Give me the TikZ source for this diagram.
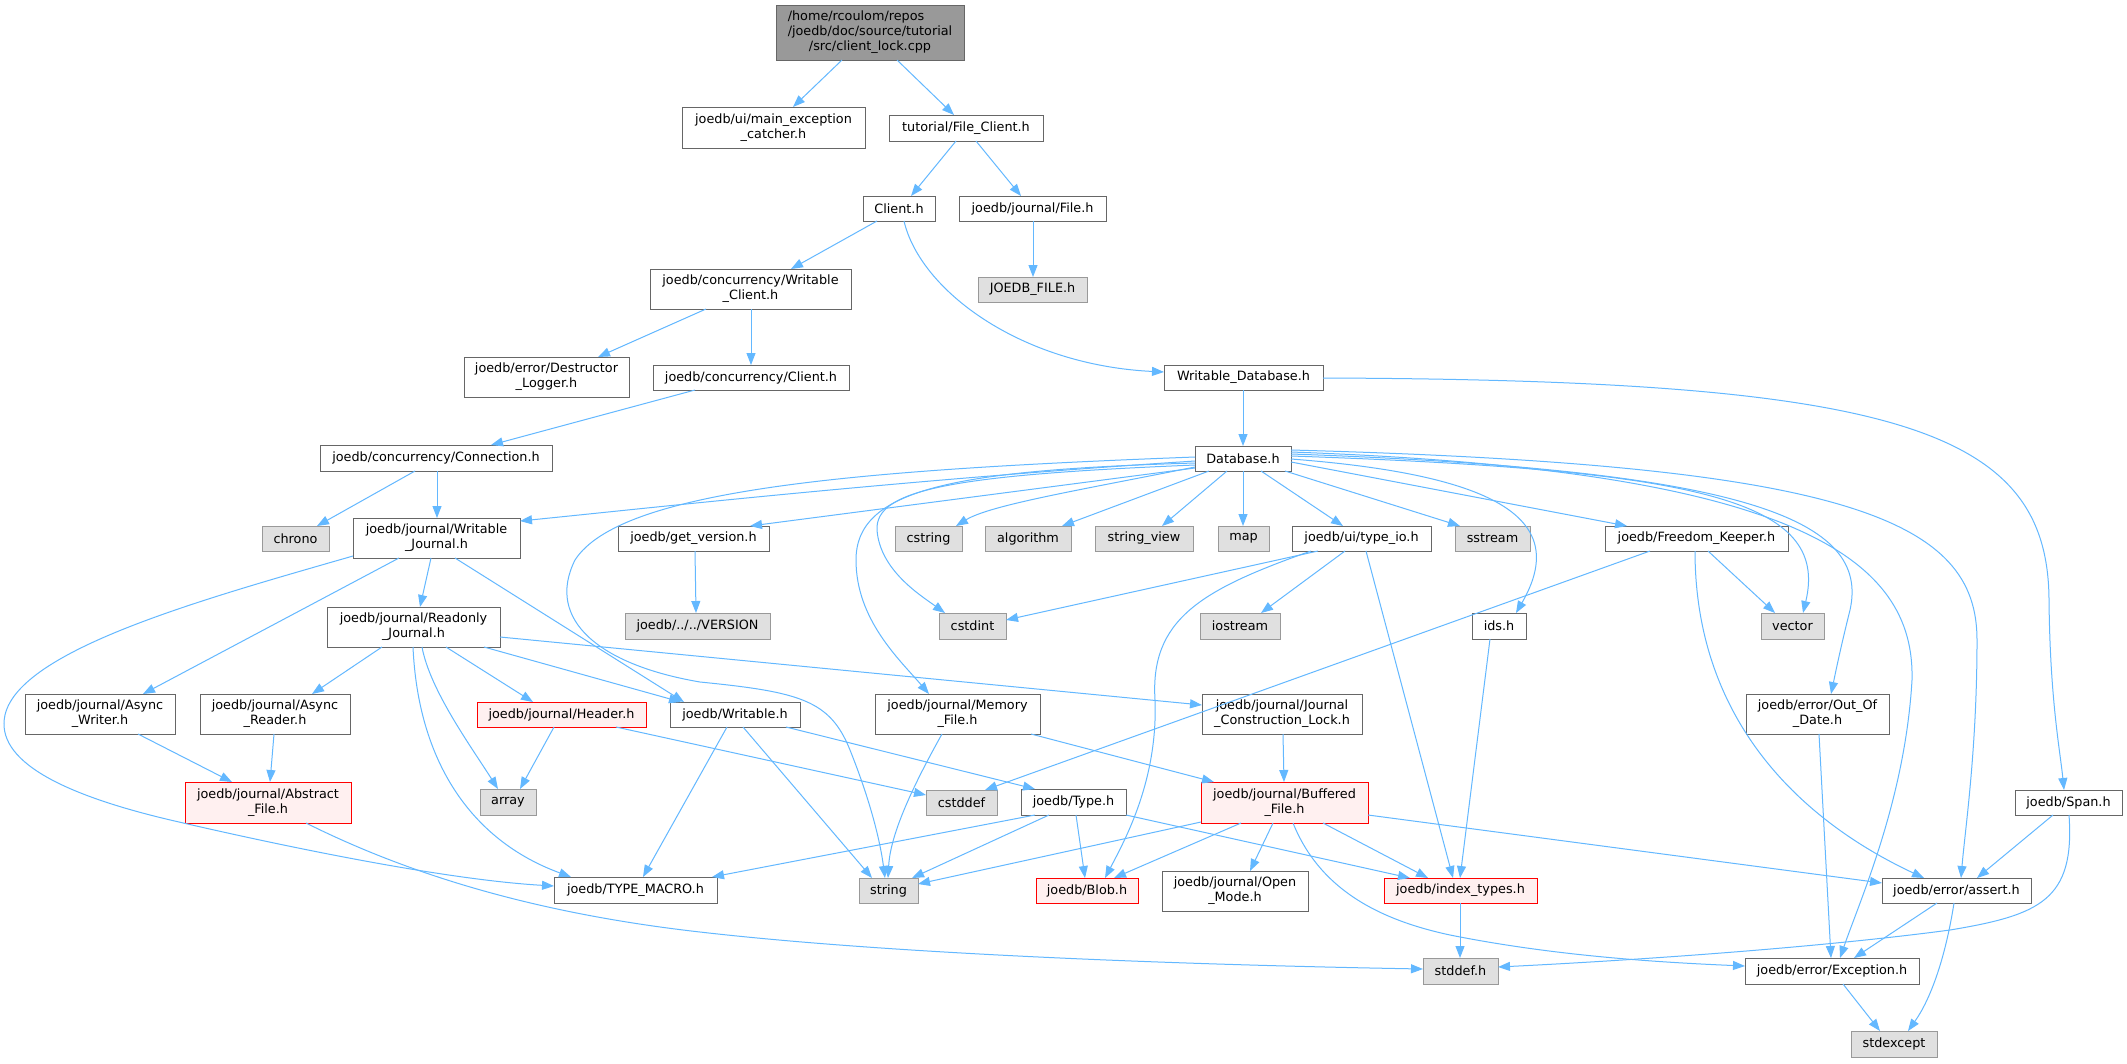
\documentclass[tikz,border=0pt]{standalone}
\usepackage{fontspec}
\setmainfont{DejaVu Sans}
\usetikzlibrary{arrows.meta}
\definecolor{edgec}{HTML}{63B8FF}
\definecolor{bord}{HTML}{666666}
\definecolor{gfill}{HTML}{E0E0E0}
\definecolor{gbord}{HTML}{999999}
\definecolor{rootfill}{HTML}{999999}
\definecolor{rfill}{HTML}{FFF0F0}
\definecolor{rbord}{HTML}{FF0000}
\newcommand\bnode[7]{\node[#1, minimum width={#6*1pt}, minimum height={#7*1pt}] (#2) at ({#4+#6/2},{#5+#7/2}) {#3};}
\tikzset{
  basen/.style={inner sep=0pt, outer sep=0pt, line width=1pt, align=center, text=black, font=\fontsize{12.8}{15}\selectfont},
  wn/.style={basen, draw=bord, fill=white},
  gn/.style={basen, draw=gbord, fill=gfill},
  rn/.style={basen, draw=rbord, fill=rfill},
  rootn/.style={basen, draw=bord, fill=rootfill},
  dep/.style={draw=edgec, line width=1pt, -{Triangle[length=12pt,width=9pt]}}
}
\begin{document}
\begin{tikzpicture}[x=1pt,y=-1pt]
\useasboundingbox[fill=white] (0,0) rectangle (2127,1063);
% nodes
\bnode{rootn}{root}{\rlap{/home/rcoulom/repos}\phantom{/joedb/doc/source/tutorial}\\/joedb/doc/source/tutorial\\/src/client\_lock.cpp}{776}{5}{188}{55}
\bnode{wn}{mec}{joedb/ui/main\_exception\\\_catcher.h}{682}{107}{183}{41}
\bnode{wn}{fc}{tutorial/File\_Client.h}{889}{115}{154}{26}
\bnode{wn}{client}{Client.h}{863}{196}{72}{25}
\bnode{wn}{jfile}{joedb/journal/File.h}{959}{196}{147}{25}
\bnode{gn}{joedbfile}{JOEDB\_FILE.h}{978}{277}{109}{25}
\bnode{wn}{wclient}{joedb/concurrency/Writable\\\_Client.h}{650}{269}{201}{40}
\bnode{wn}{dlog}{joedb/error/Destructor\\\_Logger.h}{464}{357}{165}{40}
\bnode{wn}{cclient}{joedb/concurrency/Client.h}{653}{365}{196}{25}
\bnode{wn}{wdb}{Writable\_Database.h}{1164}{365}{159}{25}
\bnode{wn}{conn}{joedb/concurrency/Connection.h}{320}{445}{232}{26}
\bnode{wn}{db}{Database.h}{1195}{446}{96}{25}
\bnode{gn}{chrono}{chrono}{262}{526}{67}{25}
\bnode{wn}{wj}{joedb/journal/Writable\\\_Journal.h}{353}{518}{167}{40}
\bnode{wn}{getv}{joedb/get\_version.h}{618}{526}{151}{25}
\bnode{gn}{cstring}{cstring}{895}{526}{67}{25}
\bnode{gn}{algorithm}{algorithm}{985}{526}{86}{25}
\bnode{gn}{stringview}{string\_view}{1095}{526}{98}{25}
\bnode{gn}{map}{map}{1218}{526}{51}{25}
\bnode{wn}{typeio}{joedb/ui/type\_io.h}{1292}{526}{139}{25}
\bnode{gn}{sstream}{sstream}{1455}{526}{75}{25}
\bnode{wn}{fk}{joedb/Freedom\_Keeper.h}{1605}{526}{183}{25}
\bnode{gn}{version}{joedb/../../VERSION}{625}{613}{145}{26}
\bnode{gn}{cstdint}{cstdint}{939}{613}{67}{26}
\bnode{gn}{iostream}{iostream}{1200}{613}{80}{26}
\bnode{wn}{ids}{ids.h}{1472}{613}{54}{26}
\bnode{gn}{vector}{vector}{1761}{613}{63}{26}
\bnode{wn}{rj}{joedb/journal/Readonly\\\_Journal.h}{327}{607}{173}{40}
\bnode{wn}{awriter}{joedb/journal/Async\\\_Writer.h}{25}{694}{150}{40}
\bnode{wn}{areader}{joedb/journal/Async\\\_Reader.h}{200}{694}{150}{40}
\bnode{rn}{header}{joedb/journal/Header.h}{477}{702}{169}{25}
\bnode{wn}{writable}{joedb/Writable.h}{670}{702}{130}{25}
\bnode{wn}{memfile}{joedb/journal/Memory\\\_File.h}{875}{694}{165}{40}
\bnode{wn}{jcl}{joedb/journal/Journal\\\_Construction\_Lock.h}{1202}{694}{160}{40}
\bnode{wn}{ood}{joedb/error/Out\_Of\\\_Date.h}{1746}{694}{143}{40}
\bnode{rn}{abstract}{joedb/journal/Abstract\\\_File.h}{185}{782}{166}{41}
\bnode{gn}{array}{array}{480}{789}{56}{26}
\bnode{gn}{cstddef}{cstddef}{926}{790}{71}{25}
\bnode{wn}{type}{joedb/Type.h}{1021}{789}{105}{26}
\bnode{rn}{buffered}{joedb/journal/Buffered\\\_File.h}{1201}{782}{167}{41}
\bnode{wn}{span}{joedb/Span.h}{2015}{790}{107}{25}
\bnode{wn}{typemacro}{joedb/TYPE\_MACRO.h}{554}{877}{163}{26}
\bnode{gn}{string}{string}{859}{878}{59}{25}
\bnode{rn}{blob}{joedb/Blob.h}{1036}{878}{102}{25}
\bnode{wn}{openmode}{joedb/journal/Open\\\_Mode.h}{1162}{871}{146}{40}
\bnode{rn}{indextypes}{joedb/index\_types.h}{1384}{878}{153}{25}
\bnode{wn}{assert}{joedb/error/assert.h}{1882}{878}{149}{25}
\bnode{gn}{stddef}{stddef.h}{1423}{958}{75}{26}
\bnode{wn}{exception}{joedb/error/Exception.h}{1745}{958}{174}{26}
\bnode{gn}{stdexcept}{stdexcept}{1851}{1031}{86}{26}
% edges
\draw[dep] ([shift={(66,55)}]root.north west) -- ([shift={(111,0)}]mec.north west);
\draw[dep] ([shift={(121,55)}]root.north west) -- ([shift={(65,0)}]fc.north west);
\draw[dep] ([shift={(67,26)}]fc.north west) -- ([shift={(48,0)}]client.north west);
\draw[dep] ([shift={(87,26)}]fc.north west) -- ([shift={(62,0)}]jfile.north west);
\draw[dep] ([shift={(74,25)}]jfile.north west) -- ([shift={(55,0)}]joedbfile.north west);
\draw[dep] ([shift={(14,25)}]client.north west) -- ([shift={(141,0)}]wclient.north west);
\draw[dep] ([shift={(41,25)}]client.north west) .. controls (920,290) and (1020,365) .. ([shift={(0,7)}]wdb.north west);
\draw[dep] ([shift={(56,40)}]wclient.north west) -- ([shift={(134,0)}]dlog.north west);
\draw[dep] ([shift={(101,40)}]wclient.north west) -- ([shift={(98,0)}]cclient.north west);
\draw[dep] ([shift={(42,25)}]cclient.north west) -- ([shift={(171,0)}]conn.north west);
\draw[dep] ([shift={(95,26)}]conn.north west) -- ([shift={(55,0)}]chrono.north west);
\draw[dep] ([shift={(117,26)}]conn.north west) -- ([shift={(84,0)}]wj.north west);
\draw[dep] ([shift={(79,25)}]wdb.north west) -- ([shift={(48,0)}]db.north west);
\draw[dep] ([shift={(159,13)}]wdb.north west) .. controls (1900,380) and (2048,430) .. (2049,600) .. controls (2050,700) and (2060,750) .. ([shift={(49,0)}]span.north west);
% Database.h
\draw[dep] ([shift={(0,15)}]db.north west) .. controls (900,480) and (650,508) .. ([shift={(167,3)}]wj.north west);
\draw[dep] ([shift={(0,11)}]db.north west) .. controls (850,470) and (620,490) .. (575,560) .. controls (545,620) and (600,665) .. (700,682) .. controls (800,692) and (830,700) .. (850,750) .. controls (870,800) and (880,840) .. ([shift={(26,0)}]string.north west);
\draw[dep] ([shift={(0,22)}]db.north west) -- ([shift={(132,0)}]getv.north west);
\draw[dep] ([shift={(0,17)}]db.north west) .. controls (950,470) and (856,490) .. (856,560) .. controls (856,620) and (900,660) .. ([shift={(54,0)}]memfile.north west);
\draw[dep] ([shift={(0,19)}]db.north west) .. controls (950,475) and (875,490) .. (877,530) .. controls (880,570) and (920,595) .. ([shift={(6,0)}]cstdint.north west);
\draw[dep] ([shift={(0,21)}]db.north west) .. controls (1080,490) and (990,505) .. ([shift={(61,0)}]cstring.north west);
\draw[dep] ([shift={(14,25)}]db.north west) -- ([shift={(77,0)}]algorithm.north west);
\draw[dep] ([shift={(32,25)}]db.north west) -- ([shift={(67,0)}]stringview.north west);
\draw[dep] ([shift={(48,25)}]db.north west) -- ([shift={(25,0)}]map.north west);
\draw[dep] ([shift={(66,25)}]db.north west) -- ([shift={(51,0)}]typeio.north west);
\draw[dep] ([shift={(90,25)}]db.north west) -- ([shift={(5,0)}]sstream.north west);
\draw[dep] ([shift={(96,16)}]db.north west) -- ([shift={(22,0)}]fk.north west);
\draw[dep] ([shift={(96,13)}]db.north west) .. controls (1500,475) and (1570,520) .. ([shift={(44,0)}]ids.north west);
\draw[dep] ([shift={(96,10)}]db.north west) .. controls (1700,470) and (1830,500) .. ([shift={(42,0)}]vector.north west);
\draw[dep] ([shift={(96,8)}]db.north west) .. controls (1750,470) and (1870,520) .. (1850,610) .. controls (1840,650) and (1835,675) .. ([shift={(85,0)}]ood.north west);
\draw[dep] ([shift={(96,6)}]db.north west) .. controls (1800,470) and (1915,560) .. (1912,680) .. controls (1905,800) and (1860,900) .. ([shift={(95,0)}]exception.north west);
\draw[dep] ([shift={(96,4)}]db.north west) .. controls (1850,465) and (1977,520) .. (1977,640) .. controls (1977,750) and (1965,830) .. ([shift={(79,0)}]assert.north west);
% get_version, type_io, Freedom_Keeper, ids, Out_Of_Date
\draw[dep] ([shift={(77,25)}]getv.north west) -- ([shift={(71,0)}]version.north west);
\draw[dep] ([shift={(26,25)}]typeio.north west) -- ([shift={(67,7)}]cstdint.north west);
\draw[dep] ([shift={(53,25)}]typeio.north west) -- ([shift={(61,0)}]iostream.north west);
\draw[dep] ([shift={(19,25)}]typeio.north west) .. controls (1200,590) and (1150,620) .. (1155,700) .. controls (1158,780) and (1125,840) .. ([shift={(69,0)}]blob.north west);
\draw[dep] ([shift={(74,25)}]typeio.north west) -- ([shift={(69,0)}]indextypes.north west);
\draw[dep] ([shift={(45,25)}]fk.north west) -- ([shift={(59,0)}]cstddef.north west);
\draw[dep] ([shift={(103,25)}]fk.north west) -- ([shift={(14,0)}]vector.north west);
\draw[dep] ([shift={(90,25)}]fk.north west) .. controls (1695,720) and (1800,820) .. ([shift={(42,0)}]assert.north west);
\draw[dep] ([shift={(18,26)}]ids.north west) -- ([shift={(76,0)}]indextypes.north west);
\draw[dep] ([shift={(73,40)}]ood.north west) -- ([shift={(86,0)}]exception.north west);
% Writable_Journal, Readonly_Journal
\draw[dep] ([shift={(46,40)}]wj.north west) -- ([shift={(118,0)}]awriter.north west);
\draw[dep] ([shift={(0,38)}]wj.north west) .. controls (200,600) and (20,650) .. (5,715) .. controls (-5,760) and (60,795) .. (179,822) .. controls (300,850) and (450,880) .. ([shift={(0,9)}]typemacro.north west);
\draw[dep] ([shift={(78,40)}]wj.north west) -- ([shift={(93,0)}]rj.north west);
\draw[dep] ([shift={(102,40)}]wj.north west) -- ([shift={(14,0)}]writable.north west);
\draw[dep] ([shift={(55,40)}]rj.north west) -- ([shift={(112,0)}]areader.north west);
\draw[dep] ([shift={(86,40)}]rj.north west) .. controls (418,760) and (470,840) .. ([shift={(17,0)}]typemacro.north west);
\draw[dep] ([shift={(95,40)}]rj.north west) .. controls (430,690) and (470,745) .. ([shift={(18,0)}]array.north west);
\draw[dep] ([shift={(119,40)}]rj.north west) -- ([shift={(56,0)}]header.north west);
\draw[dep] ([shift={(157,40)}]rj.north west) -- ([shift={(11,0)}]writable.north west);
\draw[dep] ([shift={(173,30)}]rj.north west) -- ([shift={(0,11)}]jcl.north west);
\draw[dep] ([shift={(113,40)}]awriter.north west) -- ([shift={(47,0)}]abstract.north west);
\draw[dep] ([shift={(74,40)}]areader.north west) -- ([shift={(85,0)}]abstract.north west);
\draw[dep] ([shift={(77,25)}]header.north west) -- ([shift={(40,0)}]array.north west);
\draw[dep] ([shift={(139,25)}]header.north west) -- ([shift={(0,5)}]cstddef.north west);
\draw[dep] ([shift={(116,25)}]writable.north west) -- ([shift={(14,0)}]type.north west);
\draw[dep] ([shift={(73,25)}]writable.north west) -- ([shift={(13,0)}]string.north west);
\draw[dep] ([shift={(57,25)}]writable.north west) -- ([shift={(89,0)}]typemacro.north west);
\draw[dep] ([shift={(67,40)}]memfile.north west) .. controls (905,800) and (890,840) .. ([shift={(29,0)}]string.north west);
\draw[dep] ([shift={(156,40)}]memfile.north west) -- ([shift={(13,0)}]buffered.north west);
\draw[dep] ([shift={(81,40)}]jcl.north west) -- ([shift={(83,0)}]buffered.north west);
% Type.h
\draw[dep] ([shift={(14,26)}]type.north west) -- ([shift={(158,0)}]typemacro.north west);
\draw[dep] ([shift={(28,26)}]type.north west) -- ([shift={(53,0)}]string.north west);
\draw[dep] ([shift={(55,26)}]type.north west) -- ([shift={(49,0)}]blob.north west);
\draw[dep] ([shift={(105,26)}]type.north west) -- ([shift={(26,0)}]indextypes.north west);
% Buffered_File.h
\draw[dep] ([shift={(0,40)}]buffered.north west) -- ([shift={(59,6)}]string.north west);
\draw[dep] ([shift={(40,41)}]buffered.north west) -- ([shift={(78,0)}]blob.north west);
\draw[dep] ([shift={(72,41)}]buffered.north west) -- ([shift={(88,0)}]openmode.north west);
\draw[dep] ([shift={(122,41)}]buffered.north west) -- ([shift={(44,0)}]indextypes.north west);
\draw[dep] ([shift={(92,41)}]buffered.north west) .. controls (1320,890) and (1380,920) .. (1450,935) .. controls (1550,955) and (1650,962) .. ([shift={(0,8)}]exception.north west);
\draw[dep] ([shift={(167,33)}]buffered.north west) -- ([shift={(0,5)}]assert.north west);
% bottom
\draw[dep] ([shift={(76,25)}]indextypes.north west) -- ([shift={(37,0)}]stddef.north west);
\draw[dep] ([shift={(121,41)}]abstract.north west) .. controls (420,880) and (550,915) .. (700,932) .. controls (900,955) and (1200,965) .. ([shift={(0,11)}]stddef.north west);
\draw[dep] ([shift={(38,25)}]span.north west) -- ([shift={(95,0)}]assert.north west);
\draw[dep] ([shift={(54,25)}]span.north west) .. controls (2075,900) and (2040,915) .. (1950,930) .. controls (1800,950) and (1600,962) .. ([shift={(75,9)}]stddef.north west);
\draw[dep] ([shift={(55,25)}]assert.north west) -- ([shift={(109,0)}]exception.north west);
\draw[dep] ([shift={(72,25)}]assert.north west) .. controls (1945,960) and (1930,1000) .. ([shift={(57,0)}]stdexcept.north west);
\draw[dep] ([shift={(98,26)}]exception.north west) -- ([shift={(29,0)}]stdexcept.north west);
\end{tikzpicture}
\end{document}
